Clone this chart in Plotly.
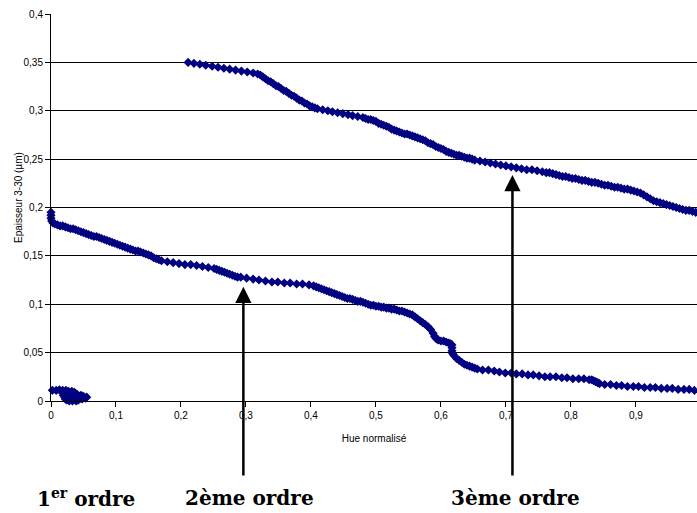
import plotly.graph_objects as go

# ---- data ----
x_first = [0.002, 0.008, 0.013, 0.018, 0.023, 0.027,
           0.017, 0.019, 0.021, 0.022, 0.024, 0.025, 0.027, 0.028, 0.029, 0.030,
           0.031, 0.032, 0.033, 0.034, 0.035, 0.036, 0.037, 0.038, 0.039, 0.040,
           0.041, 0.042, 0.043, 0.044, 0.045, 0.046, 0.047, 0.048, 0.049, 0.051,
           0.053, 0.055]
y_first = [0.011, 0.011, 0.0115, 0.011, 0.011, 0.010,
           0.009, 0.006, 0.004, 0.002, 0.001, 0.006, 0.003, 0.000, 0.008, 0.005,
           0.002, 0.010, 0.000, 0.006, 0.003, 0.009, 0.001, 0.005, 0.000, 0.007,
           0.003, 0.001, 0.005, 0.002, 0.004, 0.006, 0.003, 0.002, 0.005, 0.004,
           0.003, 0.004]

x_second = [0.000, 0.000, 0.000, 0.001, 0.003,
            0.006, 0.010, 0.014, 0.018, 0.022, 0.026, 0.030, 0.034, 0.038, 0.042,
            0.046, 0.050, 0.054, 0.058, 0.062, 0.066,
            0.070, 0.074, 0.078, 0.082, 0.086, 0.090, 0.094,
            0.098, 0.102, 0.106, 0.110, 0.114, 0.118,
            0.122, 0.126, 0.130, 0.134, 0.138, 0.142, 0.146,
            0.150, 0.154, 0.158, 0.162, 0.166,
            0.170, 0.179, 0.188, 0.197, 0.206, 0.215, 0.224, 0.233, 0.242, 0.251,
            0.255, 0.259, 0.263, 0.267, 0.271, 0.275, 0.279, 0.283, 0.287,
            0.292, 0.301, 0.311, 0.320, 0.330, 0.340, 0.349, 0.359, 0.368, 0.378, 0.387, 0.397,
            0.404, 0.408, 0.412, 0.416, 0.420, 0.424, 0.428, 0.432, 0.436, 0.440, 0.444,
            0.448, 0.452, 0.456, 0.460, 0.464, 0.468, 0.472, 0.476, 0.480, 0.484, 0.488, 0.492, 0.496,
            0.500, 0.504, 0.508, 0.512, 0.516, 0.520, 0.524, 0.528, 0.532, 0.536, 0.540, 0.544, 0.548,
            0.552, 0.556, 0.560, 0.564, 0.568, 0.572, 0.576, 0.580, 0.584, 0.588, 0.590, 0.592, 0.594, 0.596,
            0.600, 0.604, 0.608, 0.612, 0.615, 0.617, 0.617, 0.617, 0.618, 0.620, 0.624, 0.628, 0.632,
            0.636, 0.640, 0.644, 0.648, 0.652, 0.656,
            0.664, 0.673, 0.682, 0.690, 0.699, 0.708, 0.716, 0.725, 0.734, 0.742,
            0.751, 0.760, 0.768, 0.777, 0.786, 0.794, 0.803, 0.812, 0.820, 0.828,
            0.832, 0.835, 0.838, 0.841, 0.844,
            0.852, 0.861, 0.870, 0.878, 0.887, 0.896, 0.904, 0.913, 0.922, 0.930,
            0.939, 0.948, 0.956, 0.965, 0.974, 0.982, 0.990]
y_second = [0.195, 0.192, 0.189, 0.186, 0.184,
            0.183, 0.182, 0.181, 0.181, 0.180, 0.179, 0.178, 0.178, 0.177, 0.176,
            0.175, 0.174, 0.173, 0.172, 0.171, 0.170,
            0.170, 0.169, 0.168, 0.167, 0.166, 0.165, 0.164,
            0.163, 0.162, 0.161, 0.160, 0.159, 0.158,
            0.157, 0.156, 0.155, 0.155, 0.154, 0.153, 0.152,
            0.151, 0.150, 0.148, 0.147, 0.146,
            0.145, 0.144, 0.143, 0.142, 0.141, 0.141, 0.140, 0.139, 0.138, 0.137,
            0.136, 0.135, 0.134, 0.133, 0.132, 0.131, 0.130, 0.129, 0.128,
            0.128, 0.127, 0.126, 0.125, 0.124, 0.123, 0.123, 0.122, 0.122, 0.121, 0.121, 0.120,
            0.119, 0.118, 0.117, 0.116, 0.115, 0.114, 0.113, 0.112, 0.111, 0.110, 0.109,
            0.108, 0.107, 0.106, 0.106, 0.105, 0.104, 0.103, 0.103, 0.102, 0.101, 0.100, 0.099, 0.099,
            0.098, 0.098, 0.097, 0.097, 0.096, 0.096, 0.095, 0.095, 0.094, 0.093, 0.093, 0.092, 0.091,
            0.090, 0.089, 0.087, 0.085, 0.083, 0.081, 0.079, 0.077, 0.074, 0.070, 0.067, 0.065, 0.064, 0.063,
            0.062, 0.062, 0.061, 0.060, 0.059, 0.058, 0.055, 0.052, 0.049, 0.047, 0.044, 0.042, 0.040,
            0.038, 0.037, 0.036, 0.035, 0.034, 0.033,
            0.032, 0.032, 0.031, 0.030, 0.029, 0.029, 0.028, 0.028, 0.027, 0.027,
            0.026, 0.025, 0.025, 0.025, 0.024, 0.024, 0.023, 0.023, 0.023, 0.022,
            0.022, 0.021, 0.020, 0.019, 0.018,
            0.017, 0.017, 0.016, 0.016, 0.015, 0.015, 0.015, 0.014, 0.014, 0.014,
            0.013, 0.013, 0.013, 0.012, 0.012, 0.012, 0.011]

x_third = [0.211, 0.220, 0.229, 0.238, 0.248, 0.257, 0.266, 0.275, 0.284, 0.293, 0.302, 0.311, 0.318,
           0.322, 0.326, 0.330, 0.334, 0.338, 0.342, 0.346, 0.350, 0.354, 0.358, 0.362,
           0.366, 0.370, 0.374, 0.378, 0.382, 0.386, 0.390, 0.394, 0.398, 0.402, 0.406,
           0.410, 0.418, 0.426, 0.433, 0.441, 0.449, 0.457, 0.464, 0.472, 0.480,
           0.484, 0.488, 0.492, 0.496, 0.500, 0.504, 0.508, 0.512, 0.516, 0.520, 0.524, 0.528,
           0.532, 0.536, 0.540, 0.544, 0.548, 0.552, 0.556, 0.560, 0.564, 0.568, 0.572, 0.576,
           0.580, 0.584, 0.588, 0.592, 0.596, 0.600, 0.604, 0.608,
           0.612, 0.616, 0.620, 0.624, 0.628, 0.632, 0.636, 0.640, 0.644, 0.648, 0.652,
           0.660, 0.668, 0.676, 0.684, 0.692, 0.700, 0.708, 0.716, 0.724, 0.732, 0.740, 0.748, 0.756,
           0.762, 0.767, 0.772, 0.777, 0.782, 0.787, 0.792, 0.797, 0.802, 0.807,
           0.812, 0.817, 0.822, 0.827, 0.832, 0.837, 0.842, 0.847, 0.852, 0.857,
           0.862, 0.867, 0.872, 0.877, 0.882, 0.887, 0.892, 0.897, 0.902, 0.907,
           0.912, 0.917, 0.922, 0.927, 0.932,
           0.937, 0.942, 0.947, 0.952, 0.957, 0.962, 0.967, 0.972, 0.977, 0.982, 0.987, 0.992]
y_third = [0.350, 0.349, 0.348, 0.347, 0.346, 0.345, 0.344, 0.343, 0.342, 0.341, 0.340, 0.339, 0.338,
           0.337, 0.335, 0.333, 0.331, 0.330, 0.328, 0.326, 0.325, 0.323, 0.321, 0.320,
           0.318, 0.316, 0.315, 0.313, 0.311, 0.310, 0.308, 0.307, 0.305, 0.304, 0.303,
           0.302, 0.301, 0.300, 0.299, 0.298, 0.297, 0.296, 0.295, 0.294, 0.293,
           0.292, 0.291, 0.291, 0.290, 0.289, 0.287, 0.286, 0.285, 0.284, 0.283, 0.281, 0.280,
           0.279, 0.278, 0.277, 0.276, 0.276, 0.275, 0.274, 0.273, 0.272, 0.271, 0.270, 0.269,
           0.267, 0.266, 0.265, 0.263, 0.262, 0.261, 0.260, 0.258,
           0.257, 0.256, 0.255, 0.254, 0.254, 0.253, 0.252, 0.251, 0.251, 0.250, 0.249,
           0.248, 0.247, 0.246, 0.245, 0.244, 0.243, 0.242, 0.241, 0.240, 0.239, 0.239, 0.238, 0.237,
           0.236, 0.236, 0.235, 0.234, 0.233, 0.232, 0.232, 0.231, 0.230, 0.230,
           0.229, 0.228, 0.228, 0.227, 0.226, 0.226, 0.225, 0.224, 0.223, 0.223,
           0.222, 0.221, 0.221, 0.220, 0.219, 0.219, 0.218, 0.217, 0.216, 0.215,
           0.213, 0.211, 0.209, 0.207, 0.206,
           0.205, 0.204, 0.203, 0.202, 0.201, 0.200, 0.199, 0.198, 0.197, 0.197, 0.196, 0.195]

order_labels = ["1<sup>er</sup> ordre", "2ème ordre", "3ème ordre"]
arrow_x = [0.037, 0.296, 0.710]           # data x of each arrow
arrow_tip_y = [-0.009, 0.118, 0.2336]     # data y of arrow tips
label_x = [0.054, 0.306, 0.714]

x_title = "Hue normalisé"
y_title = "Epaisseur 3-30 (µm)"

# ---- figure ----
NAVY = "#000080"
fig = go.Figure()
for xs, ys in [(x_first, y_first), (x_second, y_second), (x_third, y_third)]:
    fig.add_trace(go.Scatter(
        x=xs, y=ys, mode="markers", cliponaxis=False, showlegend=False,
        hoverinfo="skip",
        marker=dict(symbol="diamond", size=7, color=NAVY, line=dict(width=0)),
    ))

W, H = 697, 513
PL, PR, PT, PB = 51, 697, 14, 401     # plot-area edges in window pixels
ML, MR, MT, MB = PL, W - PR, PT, H - PB
plot_h = PB - PT
plot_w = PR - PL
y_range = [0, 0.4]

def data_to_px_y(v):
    return PT + (y_range[1] - v) / (y_range[1] - y_range[0]) * plot_h

tail_px = [466, 477, 477]
annotations = []
for ax_, tip, tail in zip(arrow_x, arrow_tip_y, tail_px):
    annotations.append(dict(
        x=ax_, y=tip, xref="x", yref="y", text="", showarrow=True,
        ax=0, ay=tail - data_to_px_y(tip), arrowhead=2, arrowsize=1.3,
        arrowwidth=2.5, arrowcolor="black", standoff=0,
    ))
for lx, lab in zip(label_x, order_labels):
    annotations.append(dict(
        x=lx, y=(PB - 498) / plot_h, xref="x", yref="paper",
        text=lab, showarrow=False, xanchor="center", yanchor="middle",
        font=dict(family="DejaVu Serif", size=20, color="black", weight="bold"),
    ))
annotations.append(dict(
    x=(18 - PL) / plot_w, y=(PB - 198) / plot_h,
    xref="paper", yref="paper", text=y_title, textangle=-90, showarrow=False,
    xanchor="center", yanchor="middle",
    font=dict(family="Liberation Sans", size=10, color="black"),
))

fig.update_layout(
    width=W, height=H,
    margin=dict(l=ML, r=MR, t=MT, b=MB, autoexpand=False),
    paper_bgcolor="white", plot_bgcolor="white",
    separators=", ",
    hovermode=False,
    font=dict(family="Liberation Sans", size=10, color="black"),
    annotations=annotations,
    xaxis=dict(
        range=[0, 0.994], tickvals=[0, 0.1, 0.2, 0.3, 0.4, 0.5, 0.6, 0.7, 0.8, 0.9],
        showgrid=False, zeroline=False, showline=True, linecolor="black", linewidth=1,
        ticks="outside", ticklen=5, tickcolor="black", automargin=False,
        title=dict(text=x_title, font=dict(size=10), standoff=14),
    ),
    yaxis=dict(
        range=y_range, dtick=0.05, showgrid=True, gridcolor="black", gridwidth=1,
        zeroline=False, showline=True, linecolor="black", linewidth=1,
        ticks="outside", ticklen=5, tickcolor="black", automargin=False,
    ),
)

# remove the browser's default 8px body margin so the figure fills the window
fig.write_html(
    "out.html",
    config={"displayModeBar": False},
    post_script="document.body.style.margin='0';document.body.style.overflow='hidden';",
)
